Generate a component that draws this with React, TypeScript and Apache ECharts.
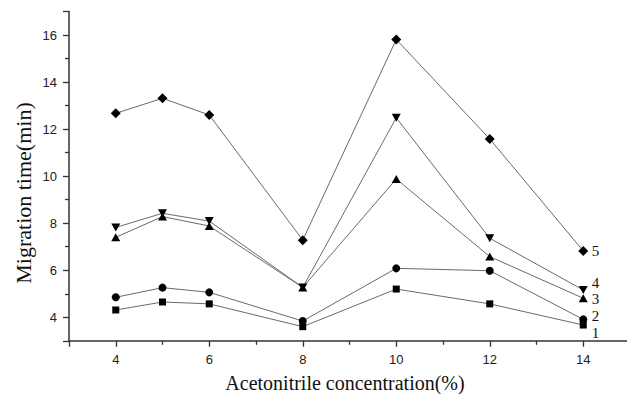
import React, { useEffect, useRef } from "react";
import * as echarts from "echarts";

const xValues = [4, 5, 6, 8, 10, 12, 14];
const series1 = [4.31, 4.65, 4.57, 3.6, 5.2, 4.57, 3.67];
const series2 = [4.85, 5.26, 5.06, 3.84, 6.08, 5.98, 3.91];
const series3 = [7.4, 8.28, 7.88, 5.27, 9.88, 6.58, 4.81];
const series4 = [7.82, 8.42, 8.09, 5.27, 12.48, 7.36, 5.16];
const series5 = [12.67, 13.31, 12.6, 7.28, 15.81, 11.58, 6.82];
const seriesNames = ["1", "2", "3", "4", "5"];
const xTitle = "Acetonitrile concentration(%)";
const yTitle = "Migration time(min)";

const seriesStyles = [
  { symbol: "rect", size: 7, rotate: 0, dist: 5, dy: 8 },
  { symbol: "circle", size: 8, rotate: 0, dist: 4.5, dy: -3 },
  { symbol: "triangle", size: [9, 8], rotate: 0, dist: 4, dy: 1 },
  { symbol: "triangle", size: [9, 8], rotate: 180, dist: 4, dy: -7 },
  { symbol: "diamond", size: 10, rotate: 0, dist: 3.5, dy: 0 },
];

export default function App() {
  const ref = useRef<HTMLDivElement>(null);
  useEffect(() => {
    document.body.style.margin = "0";
    document.body.style.overflow = "hidden";
    const chart = echarts.init(ref.current!, null, { renderer: "svg" });
    const all = [series1, series2, series3, series4, series5];
    const last = xValues.length - 1;
    chart.setOption({
      animation: false,
      backgroundColor: "#ffffff",
      grid: { left: 69, right: 0, top: 11.5, bottom: 53.2 },
      xAxis: {
        type: "value",
        min: 3,
        max: 15,
        splitNumber: 6,
        splitLine: { show: false },
        axisLine: { lineStyle: { color: "#333", width: 1.5 } },
        axisTick: { length: 6, lineStyle: { color: "#333", width: 1.3 } },
        minorTick: { show: true, splitNumber: 2, length: 4, lineStyle: { color: "#333", width: 1.3 } },
        axisLabel: {
          margin: 12,
          color: "#222",
          fontFamily: "Liberation Sans",
          fontSize: 13,
          formatter: (v: number) => (v % 2 === 0 ? String(v) : ""),
        },
      },
      yAxis: {
        type: "value",
        min: 3,
        max: 17,
        splitNumber: 7,
        splitLine: { show: false },
        axisLine: { show: true, lineStyle: { color: "#333", width: 1.5 } },
        axisTick: { show: true, length: 6, lineStyle: { color: "#333", width: 1.3 } },
        minorTick: { show: true, splitNumber: 2, length: 4, lineStyle: { color: "#333", width: 1.3 } },
        axisLabel: {
          margin: 12,
          color: "#222",
          fontFamily: "Liberation Sans",
          fontSize: 13,
          formatter: (v: number) => (v % 2 === 0 ? String(v) : ""),
        },
      },
      graphic: [
        {
          type: "text",
          x: 345,
          y: 383,
          style: {
            text: xTitle,
            fill: "#111",
            font: "20px 'Liberation Serif'",
            align: "center",
            verticalAlign: "middle",
          },
        },
        {
          type: "text",
          x: 23,
          y: 193,
          rotation: Math.PI / 2,
          style: {
            text: yTitle,
            fill: "#111",
            font: "22px 'Liberation Serif'",
            align: "center",
            verticalAlign: "middle",
          },
        },
      ],
      series: all.map((vals, i) => {
        const st = seriesStyles[i];
        return {
          type: "line",
          name: seriesNames[i],
          data: vals.map((v, j) => [xValues[j], v]),
          symbol: st.symbol,
          symbolSize: st.size,
          symbolRotate: st.rotate,
          showAllSymbol: true,
          lineStyle: { color: "#6a6a6a", width: 1 },
          itemStyle: { color: "#000" },
          z: 2 + i,
          label: {
            show: true,
            position: "right",
            distance: st.dist,
            offset: [0, st.dy],
            fontFamily: "Liberation Serif",
            fontSize: 15,
            lineHeight: 14,
            color: "#111",
            formatter: (p: any) => (p.dataIndex === last ? seriesNames[i] : ""),
          },
        };
      }),
    });
    return () => chart.dispose();
  }, []);
  return <div ref={ref} style={{ width: 633, height: 394 }} />;
}
